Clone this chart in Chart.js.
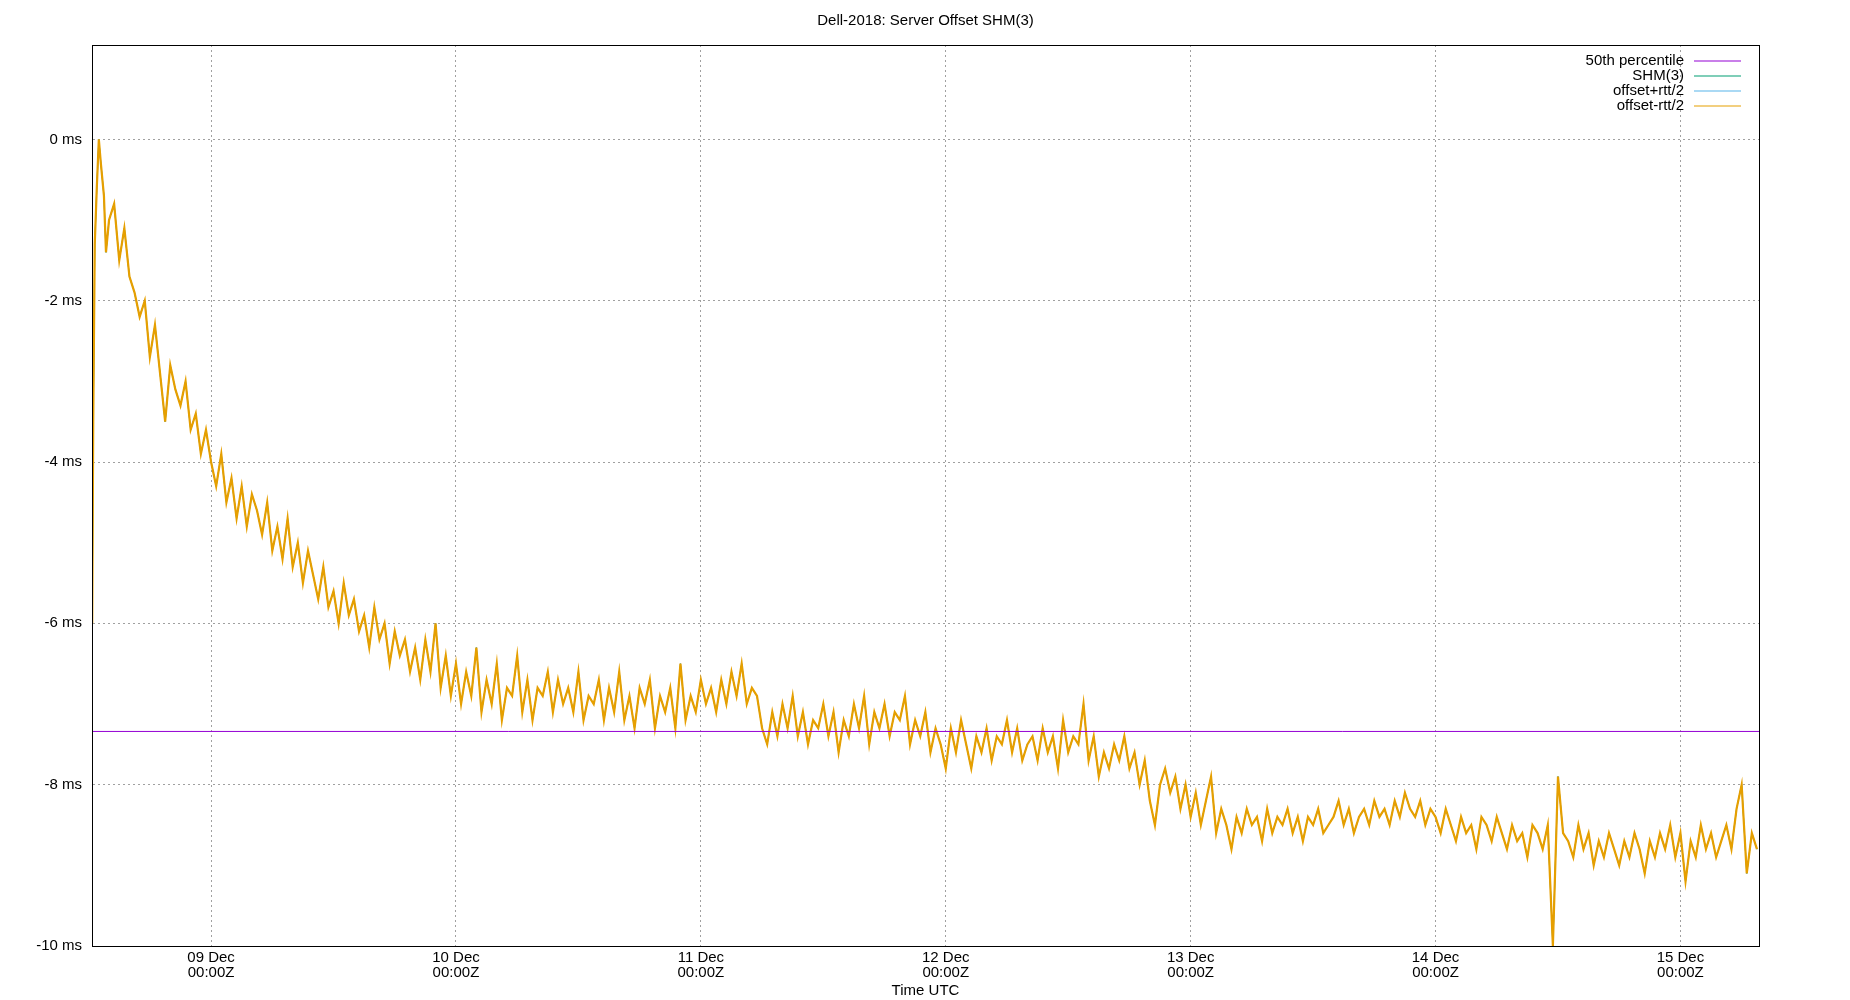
<!DOCTYPE html>
<html><head><meta charset="utf-8">
<script src="https://cdn.jsdelivr.net/npm/chart.js@4"></script>
<style>html,body{margin:0;padding:0;background:#fff}#w{width:1850px;height:1000px}</style>
</head><body><div id="w"><canvas id="c"></canvas></div>
<script>
// hours since 08 Dec 00:00Z
const xMin = 12.33, xMax = 175.7;
const tickHours = [24,48,72,96,120,144,168];
const tickLabels = [["09 Dec","00:00Z"],["10 Dec","00:00Z"],["11 Dec","00:00Z"],["12 Dec","00:00Z"],["13 Dec","00:00Z"],["14 Dec","00:00Z"],["15 Dec","00:00Z"]];
const median = -7.34;
const earlyTimes = [12.35,12.45,12.6,12.8,13.0,13.2,13.5,13.7];
const earlyValues = [-6.0,-3.5,-1.3,-0.6,0.0,-0.3,-0.7,-1.4];
const mainStart = 14.0, mainStep = 0.5;
const mainValues = [
-1.0,-0.8,-1.5,-1.1,-1.7,-1.9,-2.2,-2.0,-2.7,-2.3,
-2.9,-3.5,-2.8,-3.1,-3.3,-3.0,-3.6,-3.4,-3.9,-3.6,
-4.0,-4.3,-3.9,-4.5,-4.2,-4.7,-4.3,-4.8,-4.4,-4.6,
-4.9,-4.5,-5.1,-4.8,-5.2,-4.7,-5.3,-5.0,-5.5,-5.1,
-5.4,-5.7,-5.3,-5.8,-5.6,-6.0,-5.5,-5.9,-5.7,-6.1,
-5.9,-6.3,-5.8,-6.2,-6.0,-6.5,-6.1,-6.4,-6.2,-6.6,
-6.3,-6.7,-6.2,-6.6,-6.0,-6.8,-6.4,-6.9,-6.5,-7.0,
-6.6,-6.9,-6.3,-7.1,-6.7,-7.0,-6.5,-7.2,-6.8,-6.9,
-6.4,-7.1,-6.7,-7.2,-6.8,-6.9,-6.6,-7.1,-6.7,-7.0,
-6.8,-7.1,-6.6,-7.2,-6.9,-7.0,-6.7,-7.2,-6.8,-7.1,
-6.6,-7.2,-6.9,-7.3,-6.8,-7.0,-6.7,-7.3,-6.9,-7.1,
-6.8,-7.3,-6.5,-7.2,-6.9,-7.1,-6.7,-7.0,-6.8,-7.1,
-6.7,-7.0,-6.6,-6.9,-6.5,-7.0,-6.8,-6.9,-7.3,-7.5,
-7.1,-7.4,-7.0,-7.3,-6.9,-7.4,-7.1,-7.5,-7.2,-7.3,
-7.0,-7.4,-7.1,-7.6,-7.2,-7.4,-7.0,-7.3,-6.9,-7.5,
-7.1,-7.3,-7.0,-7.4,-7.1,-7.2,-6.9,-7.5,-7.2,-7.4,
-7.1,-7.6,-7.3,-7.5,-7.8,-7.3,-7.6,-7.2,-7.5,-7.8,
-7.4,-7.6,-7.3,-7.7,-7.4,-7.5,-7.2,-7.6,-7.3,-7.7,
-7.5,-7.4,-7.7,-7.3,-7.6,-7.4,-7.8,-7.2,-7.6,-7.4,
-7.5,-7.0,-7.7,-7.4,-7.9,-7.6,-7.8,-7.5,-7.7,-7.4,
-7.8,-7.6,-8.0,-7.7,-8.2,-8.5,-8.0,-7.8,-8.1,-7.9,
-8.3,-8.0,-8.4,-8.1,-8.5,-8.2,-7.9,-8.6,-8.3,-8.5,
-8.8,-8.4,-8.6,-8.3,-8.5,-8.4,-8.7,-8.3,-8.6,-8.4,
-8.5,-8.3,-8.6,-8.4,-8.7,-8.4,-8.5,-8.3,-8.6,-8.5,
-8.4,-8.2,-8.5,-8.3,-8.6,-8.4,-8.3,-8.5,-8.2,-8.4,
-8.3,-8.5,-8.2,-8.4,-8.1,-8.3,-8.4,-8.2,-8.5,-8.3,
-8.4,-8.6,-8.3,-8.5,-8.7,-8.4,-8.6,-8.5,-8.8,-8.4,
-8.5,-8.7,-8.4,-8.6,-8.8,-8.5,-8.7,-8.6,-8.9,-8.5,
-8.6,-8.8,-8.5,-10.0,-7.9,-8.6,-8.7,-8.9,-8.5,-8.8,
-8.6,-9.0,-8.7,-8.9,-8.6,-8.8,-9.0,-8.7,-8.9,-8.6,
-8.8,-9.1,-8.7,-8.9,-8.6,-8.8,-8.5,-8.9,-8.6,-9.2,
-8.7,-8.9,-8.5,-8.8,-8.6,-8.9,-8.7,-8.5,-8.8,-8.3,
-8.0,-9.1,-8.6,-8.8];

const pts = earlyTimes.map((t,i)=>({x:t,y:earlyValues[i]}));
mainValues.forEach((v,i)=>pts.push({x:mainStart+i*mainStep,y:v}));
const medPts = [{x:xMin,y:median},{x:xMax,y:median}];

const FONT = "'Liberation Sans', Arial, sans-serif";
const legendPlugin = {
  id:'gpLegend',
  afterDraw(chart){
    const ctx=chart.ctx, a=chart.chartArea;
    ctx.save();
    ctx.font="15px "+FONT; ctx.textAlign='right'; ctx.textBaseline='middle'; ctx.fillStyle='#000';
    const items=[0,1,2,3].map(i=>chart.data.datasets.find(d=>d.legendIndex===i));
    items.forEach((d,i)=>{
      const y=a.top+16+i*15;
      ctx.fillText(d.label,a.right-75,y);
      ctx.strokeStyle=d.borderColor; ctx.lineWidth=1.2;
      ctx.beginPath(); ctx.moveTo(a.right-65,y); ctx.lineTo(a.right-18,y); ctx.stroke();
    });
    ctx.font="15px "+FONT; ctx.textAlign='center'; ctx.textBaseline='middle';
    ctx.fillText('Dell-2018: Server Offset SHM(3)', (a.left+a.right)/2, 21);
    ctx.restore();
  }
};

new Chart(document.getElementById('c'),{
  type:'line',
  data:{datasets:[
    {label:'50th percentile',legendIndex:0,data:medPts,borderColor:'#9400d3',borderWidth:1,order:0},
    {label:'offset-rtt/2',legendIndex:3,data:pts,borderColor:'#e69f00',borderWidth:2.2,order:1},
    {label:'offset+rtt/2',legendIndex:2,data:pts,borderColor:'#56b4e9',borderWidth:1,order:2},
    {label:'SHM(3)',legendIndex:1,data:pts,borderColor:'#009e73',borderWidth:1,order:3}
  ]},
  options:{
    responsive:true,maintainAspectRatio:false,animation:false,
    elements:{point:{radius:0},line:{tension:0}},
    layout:{padding:{top:45,right:91,left:0,bottom:0}},
    plugins:{legend:{display:false},tooltip:{enabled:false},title:{display:false}},
    scales:{
      x:{type:'linear',min:xMin,max:xMax,
        afterBuildTicks(s){s.ticks=tickHours.map(v=>({value:v}));},
        afterFit(s){s.height=54;},
        ticks:{color:'#000',font:{size:15,family:FONT,lineHeight:1.0},maxRotation:0,padding:4,
          callback(v){const i=tickHours.indexOf(v);return i>=0?tickLabels[i]:'';}},
        grid:{color:'#a0a0a0',lineWidth:1,drawTicks:false},
        border:{color:'#000',width:1,dash:[2,3]},
        title:{display:true,text:'Time UTC',color:'#000',font:{size:15,family:FONT},padding:{top:2,bottom:0}}
      },
      y:{min:-10,max:1.17,
        afterBuildTicks(s){s.ticks=[-10,-8,-6,-4,-2,0].map(v=>({value:v}));},
        afterFit(s){s.width=92;},
        ticks:{color:'#000',font:{size:15,family:FONT},padding:10,callback:v=>v+' ms'},
        grid:{color:'#a0a0a0',lineWidth:1,drawTicks:false},
        border:{color:'#000',width:1,dash:[2,3]}
      }
    }
  },
  plugins:[legendPlugin,{
    id:'frame',
    afterDatasetsDraw(chart){
      const ctx=chart.ctx,a=chart.chartArea;
      ctx.save();ctx.strokeStyle='#000';ctx.lineWidth=1;ctx.setLineDash([]);
      ctx.strokeRect(a.left+0.5,a.top+0.5,a.right-a.left,a.bottom-a.top);ctx.restore();
    }
  }]
});
</script></body></html>
